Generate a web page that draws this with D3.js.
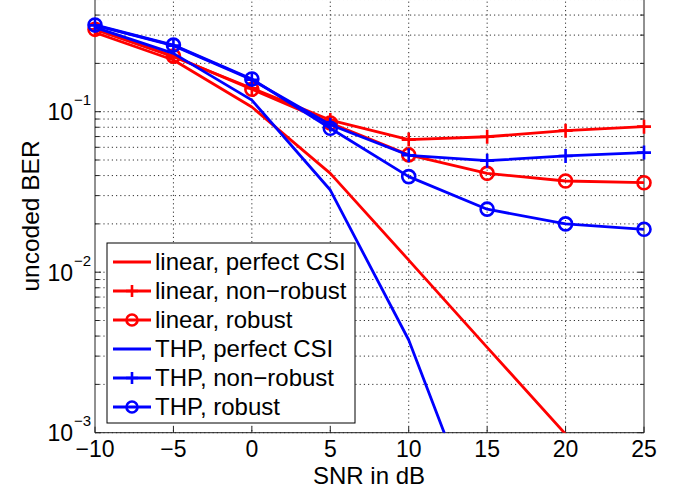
<!DOCTYPE html>
<html>
<head>
<meta charset="utf-8">
<script src="https://d3js.org/d3.v7.min.js"></script>
<style>
body { margin: 0; background: #fff; }
text { font-family: Arial, "Liberation Sans", sans-serif; fill: #000; }
</style>
</head>
<body>
<script>
// values
var snr = [-10, -5, 0, 5, 10, 15, 20, 25];
var linearPerfect   = [0.311, 0.21, 0.107, 0.0413, 0.0119, 0.0034, 0.00098, null];
var linearNonRobust = [0.326, 0.22, 0.14, 0.0887, 0.067, 0.0698, 0.0762, 0.0807];
var linearRobust    = [0.326, 0.222, 0.138, 0.085, 0.0538, 0.0413, 0.037, 0.0361];
var thpPerfect      = [0.335, 0.231, 0.118, 0.0325, 0.00378, 0.0002, null, null];
var thpNonRobust    = [0.345, 0.258, 0.158, 0.083, 0.0535, 0.0495, 0.053, 0.0556];
var thpRobust       = [0.347, 0.26, 0.16, 0.0788, 0.0394, 0.0247, 0.02, 0.0185];

var legendLabels = ["linear, perfect CSI", "linear, non\u2212robust", "linear, robust",
                    "THP, perfect CSI", "THP, non\u2212robust", "THP, robust"];
var xTicks = [-10, -5, 0, 5, 10, 15, 20, 25];
var yMajor = [1e-3, 1e-2, 1e-1];
var yMajorExp = ["\u22123", "\u22122", "\u22121"];

var series = [
  {v: linearPerfect,   c: "#ff0000", m: "none"},
  {v: linearNonRobust, c: "#ff0000", m: "plus"},
  {v: linearRobust,    c: "#ff0000", m: "circle"},
  {v: thpPerfect,      c: "#0000ff", m: "none"},
  {v: thpNonRobust,    c: "#0000ff", m: "plus"},
  {v: thpRobust,       c: "#0000ff", m: "circle"}
];

var left = 95, right = 644, bottom = 432.7;

var svg = d3.select("body").append("svg")
  .attr("width", 680)
  .attr("height", 491);

var x = d3.scaleLinear().domain([-10, 25]).range([left, right]);
var y = d3.scaleLog().domain([1e-3, 1]).range([bottom, -48.8]);

var yTop = y(1);

// grid, dotted
var grid = svg.append("g").attr("stroke", "#333").attr("stroke-width", 1)
  .attr("stroke-dasharray", "1.2,3");
grid.selectAll(".gx").data(xTicks.slice(1, -1)).enter().append("line")
  .attr("x1", d => x(d)).attr("x2", d => x(d))
  .attr("y1", yTop).attr("y2", bottom);
grid.selectAll(".gy").data(y.ticks()).enter().append("line")
  .attr("x1", left).attr("x2", right)
  .attr("y1", d => y(d)).attr("y2", d => y(d));

// ticks (inward)
var ticks = svg.append("g").attr("stroke", "#222").attr("stroke-width", 1);
ticks.selectAll(".tx").data(xTicks).enter().append("line")
  .attr("x1", d => x(d)).attr("x2", d => x(d))
  .attr("y1", bottom).attr("y2", bottom - 6);
ticks.selectAll(".tyl").data(y.ticks()).enter().append("line")
  .attr("x1", left).attr("x2", d => left + (yMajor.indexOf(d) >= 0 || d === 1 ? 6 : 4))
  .attr("y1", d => y(d)).attr("y2", d => y(d));
ticks.selectAll(".tyr").data(y.ticks()).enter().append("line")
  .attr("x1", right).attr("x2", d => right - (yMajor.indexOf(d) >= 0 || d === 1 ? 6 : 4))
  .attr("y1", d => y(d)).attr("y2", d => y(d));

// frame
svg.append("path")
  .attr("d", "M" + left + "," + yTop + "V" + bottom + "H" + right + "V" + yTop)
  .attr("fill", "none").attr("stroke", "#222").attr("stroke-width", 1);

// clip lines (not markers) to the axes box
svg.append("clipPath").attr("id", "box").append("rect")
  .attr("x", left).attr("y", yTop).attr("width", right - left).attr("height", bottom - yTop);

var line = d3.line()
  .defined(d => d[1] != null && d[1] > 0)
  .x(d => x(d[0])).y(d => y(d[1]));

function marker(g, type, color, size) {
  if (type === "plus") {
    g.append("path").attr("d", "M" + (-size) + ",0H" + size + "M0," + (-size) + "V" + size)
      .attr("stroke", color).attr("stroke-width", 2.6).attr("fill", "none");
  } else if (type === "circle") {
    g.append("circle").attr("r", size - 0.5)
      .attr("stroke", color).attr("stroke-width", 2.6).attr("fill", "none");
  }
}

series.forEach(function(s) {
  var pts = snr.map((d, i) => [d, s.v[i]]);
  var sg = svg.append("g");
  sg.append("path")
    .attr("clip-path", "url(#box)")
    .attr("d", line(pts))
    .attr("fill", "none")
    .attr("stroke", s.c)
    .attr("stroke-width", 2.8)
    .attr("stroke-linejoin", "round");
  if (s.m !== "none") {
    pts.filter(p => p[1] != null).forEach(function(p) {
      var g = sg.append("g").attr("transform", "translate(" + x(p[0]) + "," + y(p[1]) + ")");
      marker(g, s.m, s.c, 7);
    });
  }
});

// x tick labels
svg.selectAll(".xl").data(xTicks).enter().append("text")
  .attr("x", d => x(d))
  .attr("y", 457)
  .attr("text-anchor", "middle")
  .attr("font-size", 23)
  .text(d => d3.format("d")(d));

// y tick labels 10^k
svg.selectAll(".yl").data(yMajor).enter().append("text")
  .attr("x", 73)
  .attr("y", d => y(d) + 8.5)
  .attr("text-anchor", "end")
  .attr("font-size", 23)
  .text("10");
svg.selectAll(".ye").data(yMajor).enter().append("text")
  .attr("x", 74)
  .attr("y", d => y(d) - 6.5)
  .attr("font-size", 15)
  .text((d, i) => yMajorExp[i]);

// axis titles
svg.append("text")
  .attr("x", 369).attr("y", 484)
  .attr("text-anchor", "middle")
  .attr("font-size", 24)
  .text("SNR in dB");
svg.append("text")
  .attr("transform", "translate(39,216) rotate(-90)")
  .attr("text-anchor", "middle")
  .attr("font-size", 24.5)
  .text("uncoded BER");

// legend
var legend = svg.append("g");
legend.append("rect")
  .attr("x", 107).attr("y", 243).attr("width", 248).attr("height", 180)
  .attr("fill", "#fff").attr("stroke", "#000").attr("stroke-width", 1);
series.forEach(function(s, i) {
  var cy = 262 + i * 29;
  legend.append("line")
    .attr("x1", 113).attr("x2", 151).attr("y1", cy).attr("y2", cy)
    .attr("stroke", s.c).attr("stroke-width", 2.8);
  var g = legend.append("g").attr("transform", "translate(132," + cy + ")");
  marker(g, s.m, s.c, 6);
  legend.append("text")
    .attr("x", 155).attr("y", cy + 8)
    .attr("font-size", 24)
    .text(legendLabels[i]);
});
</script>
</body>
</html>
